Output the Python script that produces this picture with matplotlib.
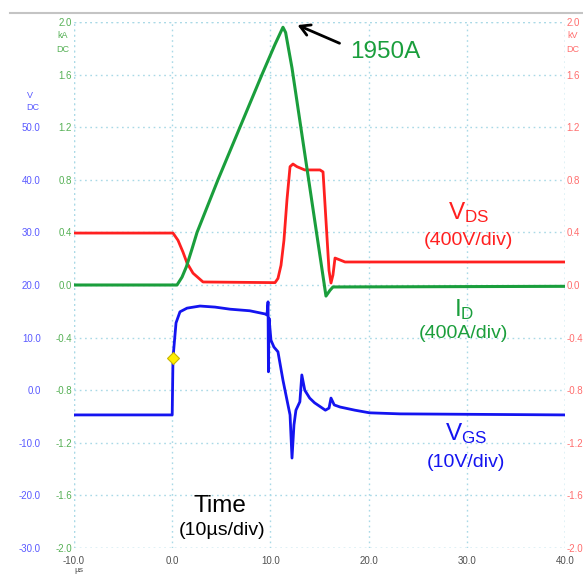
import matplotlib
matplotlib.use("Agg")
import matplotlib.pyplot as plt
import numpy as np
from matplotlib.lines import Line2D

plt.rcParams['font.family'] = ['Liberation Sans', 'DejaVu Sans']
plt.rcParams['mathtext.default'] = 'regular'

# time axis in us
t_lim = (-10, 40)
x_ticks = [-10, 0, 10, 20, 30, 40]

# drain current I_D (kA)
id_t = [-10, 0.49, 1.0, 1.45, 2.0, 2.53, 4.66, 6.9, 9.14, 10.47, 11.28,
        11.55, 12.2, 15.66, 16.07, 16.37, 40]
id_ka = [0.0, 0.0, 0.06, 0.14, 0.27, 0.40, 0.80, 1.20, 1.60, 1.83, 1.96,
         1.92, 1.65, -0.084, -0.04, -0.015, -0.01]

# drain-source voltage V_DS (kV)
vds_t = [-10, 0.08, 0.59, 1.10, 1.51, 2.12, 3.14, 10.47, 10.77, 11.08, 11.38, 11.69,
         12.0, 12.3, 12.7, 13.5, 15.05, 15.36, 15.66, 15.97, 16.17, 16.37, 16.58,
         17.1, 17.6, 40]
vds_kv = [0.395, 0.395, 0.34, 0.25, 0.167, 0.09, 0.023, 0.018, 0.05, 0.15, 0.34, 0.65,
          0.90, 0.92, 0.90, 0.875, 0.875, 0.86, 0.49, 0.11, 0.015, 0.076, 0.205,
          0.19, 0.175, 0.175]

# gate-source voltage V_GS (V)
vgs_t = [-10, 0.0, 0.08, 0.39, 0.79, 1.51, 2.83, 4.36, 5.9, 7.9, 9.45, 9.65, 9.76,
         9.8, 9.86, 10.06, 10.36, 10.77, 11.28, 11.79, 12.0, 12.2, 12.4, 12.6, 13.0,
         13.2, 13.5, 14.0, 14.5, 15.6, 15.97, 16.17, 16.5, 17.1, 18.6, 20.1, 23.2, 40]
vgs_v = [-4.7, -4.7, 6.1, 12.8, 14.9, 15.6, 16.0, 15.8, 15.4, 15.1, 14.5, 14.3, 16.8,
         3.5, 13.7, 9.5, 8.2, 7.3, 1.9, -2.8, -4.7, -12.9, -6.6, -3.8, -2.2,
         2.9, 0.0, -1.5, -2.4, -3.8, -3.4, -1.5, -2.8, -3.2, -3.8, -4.3, -4.5, -4.7]

# scale ticks (one per division)
ka_ticks = [-2.0, -1.6, -1.2, -0.8, -0.4, 0.0, 0.4, 0.8, 1.2, 1.6, 2.0]
v_ticks = [-30, -20, -10, 0, 10, 20, 30, 40, 50]

marker_t, marker_v = 0.08, 6.1


def v_to_ka(v):
    return (np.asarray(v, dtype=float) - 20.0) / 25.0


def ka_to_v(k):
    return np.asarray(k, dtype=float) * 25.0 + 20.0


c_blue, c_green, c_red = '#1414f0', '#1a9e3c', '#ff2020'
lab_blue, lab_green, lab_red = '#5a5aff', '#55b055', '#ff6e6e'
grid_c = '#a9d9e6'

fig = plt.figure(figsize=(5.83, 5.76), dpi=100)
ax = fig.add_axes([74 / 583, 28 / 576, 491 / 583, 526 / 576])
ax.set_xlim(*t_lim)
ax.set_ylim(-2.0, 2.0)

for s in ax.spines.values():
    s.set_visible(False)
ax.set_xticks(x_ticks)
ax.set_yticks(ka_ticks)
ax.grid(True, color=grid_c, lw=1.0, ls=(0, (1.2, 2.6)))
for xv in t_lim:
    ax.axvline(xv, color=grid_c, lw=1.0, ls=(0, (1.2, 2.6)))
for yv in (-2.0, 2.0):
    ax.axhline(yv, color=grid_c, lw=1.0, ls=(0, (1.2, 2.6)))
ax.set_xticklabels([f"{v:.1f}" for v in x_ticks])
ax.set_yticklabels([f"{v:.1f}" for v in ka_ticks])
ax.tick_params(axis='x', length=0, pad=6, labelsize=7, labelcolor='#505050')
ax.tick_params(axis='y', length=0, pad=1.5, labelsize=7, labelcolor=lab_green)

# right scale (kV)
axr = ax.twinx()
axr.set_ylim(-2.0, 2.0)
axr.set_yticks(ka_ticks)
axr.set_yticklabels([f"{v:.1f}" for v in ka_ticks])
axr.tick_params(axis='y', length=0, pad=1.0, labelsize=7, labelcolor=lab_red)
for s in axr.spines.values():
    s.set_visible(False)

# left outer scale (V)
axv = ax.secondary_yaxis(0, functions=(ka_to_v, v_to_ka))
axv.set_yticks(v_ticks)
axv.set_yticklabels([f"{v:.1f}" for v in v_ticks])
axv.tick_params(axis='y', length=0, pad=24, labelsize=7, labelcolor=lab_blue)
axv.spines['left'].set_visible(False)

ax.plot(vds_t, vds_kv, color=c_red, lw=2.0, zorder=3)
ax.plot(id_t, id_ka, color=c_green, lw=2.2, zorder=4)
ax.plot(vgs_t, v_to_ka(vgs_v), color=c_blue, lw=2.0, zorder=5)
ax.plot([marker_t], v_to_ka([marker_v]), marker='D', ms=6, color='#ffee00',
        mec='#c8b400', mew=0.8, zorder=6)

# annotations
ax.annotate('', xy=(12.5, 1.985), xytext=(17.3, 1.83),
            arrowprops=dict(arrowstyle='->,head_length=0.7,head_width=0.4',
                            color='black', lw=2.0))
ax.text(18.1, 1.77, '1950A', color=c_green, fontsize=17.5, ha='left', va='center')

ax.text(30.2, 0.55, r'$V_{DS}$', color=c_red, fontsize=17.5, ha='center', va='center')
ax.text(30.2, 0.34, '(400V/div)', color=c_red, fontsize=14, ha='center', va='center')
ax.text(29.7, -0.19, r'$I_{D}$', color=c_green, fontsize=17.5, ha='center', va='center')
ax.text(29.7, -0.37, '(400A/div)', color=c_green, fontsize=14, ha='center', va='center')
ax.text(29.9, -1.13, r'$V_{GS}$', color=c_blue, fontsize=17.5, ha='center', va='center')
ax.text(29.9, -1.35, '(10V/div)', color=c_blue, fontsize=14, ha='center', va='center')
ax.text(4.9, -1.68, 'Time', color='black', fontsize=17.5, ha='center', va='center')
ax.text(5.1, -1.87, '(10\u00b5s/div)', color='black', fontsize=14, ha='center', va='center')

# unit labels
fig.text(30 / 583, 1 - 95 / 576, 'V', color=lab_blue, fontsize=6.5, ha='center', va='center')
fig.text(33 / 583, 1 - 107 / 576, 'DC', color=lab_blue, fontsize=6.5, ha='center', va='center')
fig.text(63 / 583, 1 - 36 / 576, 'kA', color=lab_green, fontsize=6.5, ha='center', va='center')
fig.text(63 / 583, 1 - 50 / 576, 'DC', color=lab_green, fontsize=6.5, ha='center', va='center')
fig.text(573 / 583, 1 - 36 / 576, 'kV', color=lab_red, fontsize=6.5, ha='center', va='center')
fig.text(573 / 583, 1 - 50 / 576, 'DC', color=lab_red, fontsize=6.5, ha='center', va='center')
fig.text(79 / 583, 1 - 571 / 576, '\u00b5s', color='#505050', fontsize=6, ha='center', va='center')

fig.add_artist(Line2D([10 / 583, 1.0], [1 - 13 / 576] * 2, color='#c4c4c4', lw=1.5))

fig.savefig('out.png', dpi=100)
